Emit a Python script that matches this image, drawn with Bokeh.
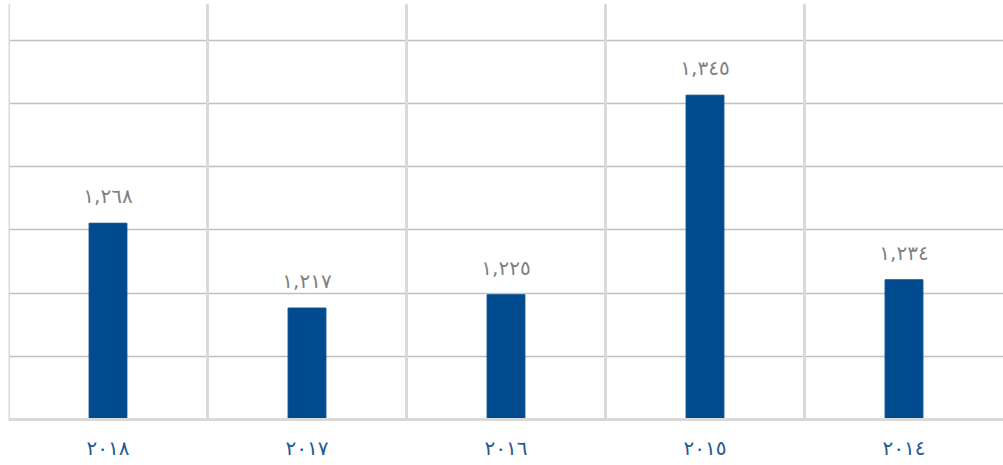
from bokeh.plotting import figure
from bokeh.models import ColumnDataSource, FactorRange, Range1d, FixedTicker, Span
from bokeh.core.properties import value
from bokeh.embed import file_html
from bokeh.resources import INLINE

# Data (right-to-left chart, left-most first)
categories = ["٢٠١٨", "٢٠١٧", "٢٠١٦", "٢٠١٥", "٢٠١٤"]
values = [1268, 1217, 1225, 1345, 1234]
labels = ["١,٢٦٨", "١,٢١٧", "١,٢٢٥", "١,٣٤٥", "١,٢٣٤"]

BAR = "#004B8D"
CAT = "#235A93"
LBL = "#7F7F7F"
FONT = "DejaVu Sans"

y_start, y_step, n_grid = 1150, 38, 6
frame_h = 416
grid_px = 63.2
y_end = y_start + y_step * frame_h / grid_px

src = ColumnDataSource(dict(x=categories, y=values, t=labels))

p = figure(x_range=FactorRange(*categories, range_padding=0, factor_padding=0),
           y_range=Range1d(y_start, y_end),
           frame_width=995, frame_height=frame_h,
           min_border_left=8, min_border_right=0, min_border_top=3, min_border_bottom=40,
           output_backend="svg", toolbar_location=None)
p.outline_line_color = None
p.background_fill_color = "white"

p.vbar(x="x", top="y", bottom=y_start, width=0.19, color=BAR, source=src)
p.text(x="x", y="y", text="t", source=src, text_align="center", text_baseline="bottom",
       y_offset=-15, text_font=value(FONT), text_font_size="20px", text_color=LBL)

p.yaxis.visible = False
p.ygrid.ticker = FixedTicker(ticks=[y_start + y_step * i for i in range(1, n_grid + 1)])
p.ygrid.grid_line_color = "#BFBFBF"
p.ygrid.grid_line_width = 1.5
p.xgrid.visible = False

for i in range(len(categories)):
    p.add_layout(Span(location=float(i), dimension="height", line_color="#D9D9D9",
                      line_width=3, level="underlay"))

ax = p.xaxis[0]
ax.axis_line_color = "#D9D9D9"
ax.axis_line_width = 3
ax.major_tick_line_color = None
ax.minor_tick_line_color = None
ax.major_label_text_font = FONT
ax.major_label_text_font_size = "20px"
ax.major_label_text_color = CAT
ax.major_label_standoff = 10

open("out.html", "w").write(file_html(p, INLINE))
